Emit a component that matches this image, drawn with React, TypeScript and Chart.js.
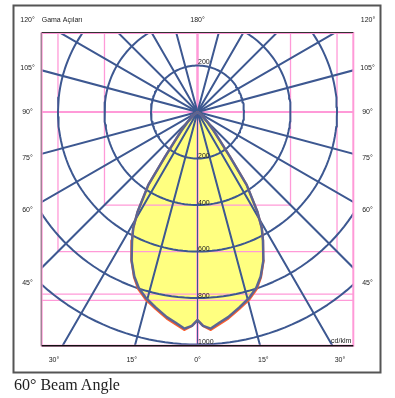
import React, { useEffect, useRef } from 'react';
import { Chart, registerables } from 'chart.js';
Chart.register(...registerables);

// Gamma angles (deg from nadir) and intensities (cd/klm)
const gammaAngles = [0, 1.5, 3.5, 6, 8.5, 12, 15.5, 18.5, 21, 24, 27, 29, 31, 34, 36, 38, 41, 45, 50, 55, 60, 70, 90];
const intensityC0 = [895, 920, 933, 910, 892, 860, 830, 797, 758, 697, 620, 570, 500, 378, 238, 160, 105, 60, 30, 12, 4, 0, 0];
const intensityC90 = [895, 921, 939, 917, 898, 866, 836, 803, 762, 699, 621, 570, 500, 378, 238, 160, 105, 60, 30, 12, 4, 0, 0];

const ringValues = [200, 400, 600, 800, 1000];
const spokeAngles = [15, 30, 45, 60, 75, 105, 120, 135, 150, 165];
const boxLimits = [400, 600];
const levelLines = [783, 810];

const topLabels = ['120°', '180°', '120°'];
const sideLabels = ['105°', '90°', '75°', '60°', '45°'];
const bottomLabels = ['30°', '15°', '0°', '15°', '30°'];
const axisTitle = 'Gama Açıları';
const unitLabel = 'cd/klm';
const caption = '60° Beam Angle';

const BLUE = '#3d5891';
const PINK = '#ff9ad8';

const toXY = (deg: number, r: number) => ({
  x: r * Math.sin((deg * Math.PI) / 180),
  y: -r * Math.cos((deg * Math.PI) / 180),
});

function curve(vals: number[]) {
  const pts: { x: number; y: number }[] = [];
  for (let i = gammaAngles.length - 1; i >= 0; i--) pts.push(toXY(-gammaAngles[i], vals[i]));
  for (let i = 1; i < gammaAngles.length; i++) pts.push(toXY(gammaAngles[i], vals[i]));
  return pts;
}

function ring(v: number) {
  const pts: { x: number; y: number }[] = [];
  for (let a = 0; a <= 360; a += 2) pts.push(toXY(a, v));
  return pts;
}

const decor = {
  id: 'decor',
  afterDraw(chart: any) {
    const { ctx, chartArea: a, scales } = chart;
    const sx = scales.x;
    const sy = scales.y;
    ctx.save();
    // plot border
    ctx.strokeStyle = PINK;
    ctx.lineWidth = 2;
    ctx.strokeRect(a.left, a.top, a.right - a.left, a.bottom - a.top);
    ctx.strokeStyle = '#777';
    ctx.lineWidth = 1;
    ctx.beginPath();
    ctx.moveTo(a.left - 0.5, a.top);
    ctx.lineTo(a.left - 0.5, a.bottom);
    ctx.stroke();
    ctx.strokeStyle = '#333';
    ctx.lineWidth = 1;
    ctx.beginPath();
    ctx.moveTo(a.left, a.top - 0.5);
    ctx.lineTo(a.right, a.top - 0.5);
    ctx.stroke();
    ctx.strokeStyle = '#111';
    ctx.lineWidth = 1.5;
    ctx.beginPath();
    ctx.moveTo(a.left, a.bottom);
    ctx.lineTo(a.right, a.bottom);
    ctx.stroke();

    // outer frame
    ctx.strokeStyle = '#555';
    ctx.lineWidth = 2;
    ctx.strokeRect(13.5, 5.5, 367, 367);

    // labels
    ctx.fillStyle = '#222';
    ctx.font = '7px "Liberation Sans", Arial, sans-serif';
    ctx.textBaseline = 'middle';
    ctx.textAlign = 'center';
    const cx = sx.getPixelForValue(0);
    ctx.fillText(topLabels[0], 27.5, 20.5);
    ctx.fillText(topLabels[1], cx, 20.5);
    ctx.fillText(topLabels[2], 368, 20.5);
    ctx.textAlign = 'left';
    ctx.fillText(axisTitle, 41.7, 20.5);
    ctx.textAlign = 'center';
    const sideY = [67.7, 112, 158.3, 210, 282.7];
    sideLabels.forEach((t, i) => {
      ctx.fillText(t, 27.5, sideY[i]);
      ctx.fillText(t, 367.5, sideY[i]);
    });
    const botX = [54, 131.7, cx, 263.3, 340];
    bottomLabels.forEach((t, i) => ctx.fillText(t, botX[i], 360));

    // ring value labels
    ctx.textAlign = 'left';
    ctx.fillText(String(ringValues[0]), cx + 0.5, sy.getPixelForValue(ringValues[0]) - 3);
    ringValues.forEach((v) => {
      ctx.fillText(String(v), cx + 0.5, sy.getPixelForValue(-v) - 2);
    });
    ctx.textAlign = 'right';
    ctx.fillText(unitLabel, a.right - 2, a.bottom - 5);
    ctx.restore();
  },
};

export default function App() {
  const ref = useRef<HTMLCanvasElement | null>(null);
  useEffect(() => {
    if (!ref.current) return;
    const lineDs = (data: any[], color: string, width: number, order: number, extra: any = {}) => ({
      data,
      borderColor: color,
      borderWidth: width,
      pointRadius: 0,
      fill: false,
      tension: 0,
      order,
      ...extra,
    });
    const datasets: any[] = [];
    // yellow beam fill
    datasets.push(
      lineDs(curve(intensityC0), 'rgba(0,0,0,0)', 0, 20, { fill: 'shape', backgroundColor: '#ffff80' })
    );
    // pink reference lines
    datasets.push(lineDs([{ x: -2000, y: 0 }, { x: 2000, y: 0 }], PINK, 2, 12));
    datasets.push(lineDs([{ x: 0, y: 2000 }, { x: 0, y: -2000 }], PINK, 2.5, 12));
    boxLimits.forEach((b) => {
      datasets.push(
        lineDs(
          [
            { x: -b, y: 2000 },
            { x: -b, y: -b },
            { x: b, y: -b },
            { x: b, y: 2000 },
          ],
          PINK,
          1.3,
          12
        )
      );
    });
    levelLines.forEach((l) => {
      datasets.push(lineDs([{ x: -2000, y: -l }, { x: 2000, y: -l }], PINK, 1.3, 12));
    });
    // rings
    ringValues.forEach((v) => datasets.push(lineDs(ring(v), BLUE, 2, 8)));
    // spokes
    spokeAngles.forEach((s) => {
      [s, -s].forEach((d) => {
        datasets.push(lineDs([{ x: 0, y: 0 }, toXY(d, 3000)], BLUE, 2, 7));
      });
    });
    datasets.push(lineDs([{ x: 0, y: 0 }, toXY(0, 3000)], BLUE, 1, 7));
    // photometric curves
    datasets.push(lineDs(curve(intensityC90), '#ff5e2e', 2.2, 3));
    datasets.push(lineDs(curve(intensityC0), '#5a6594', 2.5, 2));

    const chart = new Chart(ref.current, {
      type: 'line',
      data: { datasets },
      options: {
        animation: false,
        responsive: false,
        maintainAspectRatio: false,
        layout: { padding: { left: 41.7, top: 33, right: 41.7, bottom: 52.3 } },
        scales: {
          x: { type: 'linear', min: -670, max: 670, display: false },
          y: { type: 'linear', min: -1005, max: 340, display: false },
        },
        plugins: { legend: { display: false }, tooltip: { enabled: false } },
        elements: { line: { borderJoinStyle: 'round', borderCapStyle: 'round' } },
      } as any,
      plugins: [decor],
    });
    return () => chart.destroy();
  }, []);

  return (
    <div style={{ position: 'absolute', left: 0, top: 0, width: 395, height: 398, background: '#fff' }}>
      <canvas ref={ref} width={395} height={398} style={{ display: 'block' }} />
      <div
        style={{
          position: 'absolute',
          left: 14,
          top: 376,
          font: '16px "Liberation Serif", "Times New Roman", serif',
          lineHeight: '18px',
          color: '#222',
          whiteSpace: 'nowrap',
        }}
      >
        {caption}
      </div>
    </div>
  );
}
